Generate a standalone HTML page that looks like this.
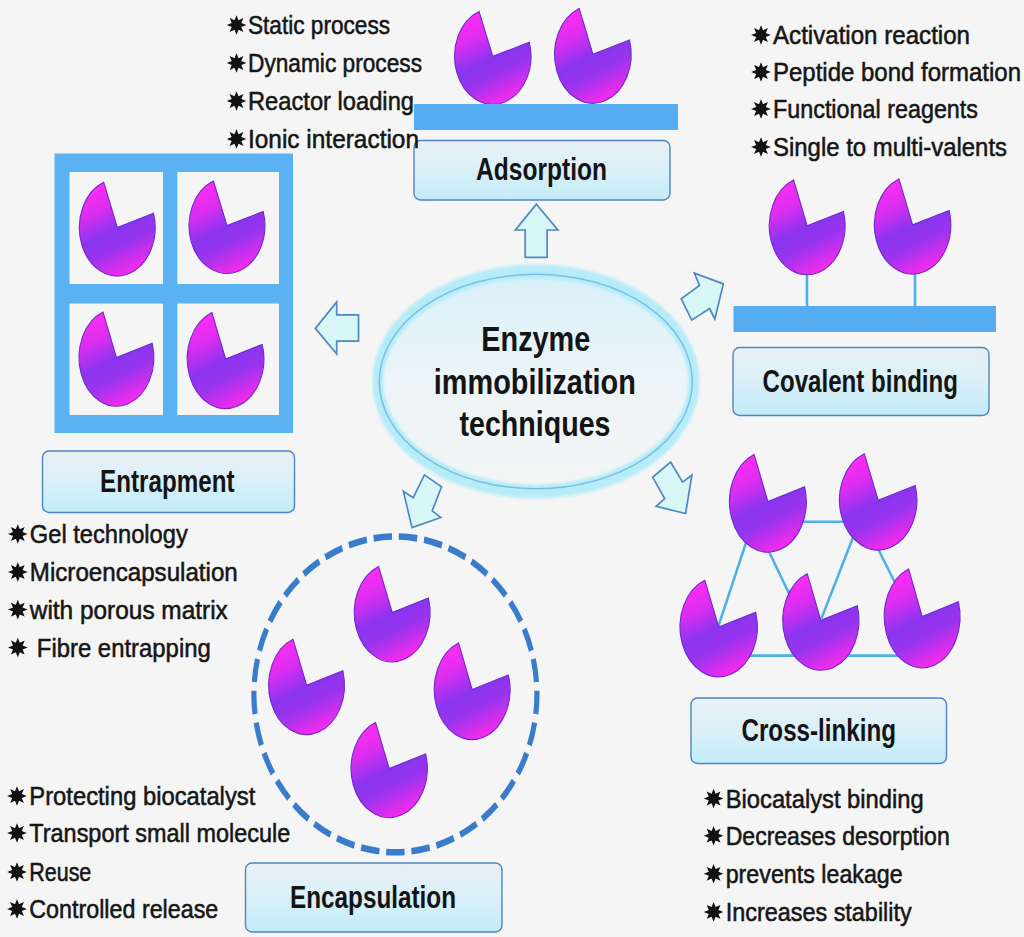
<!DOCTYPE html>
<html><head><meta charset="utf-8"><title>Enzyme immobilization techniques</title>
<style>
html,body{margin:0;padding:0;background:#f5f5f5;}
body{width:1024px;height:937px;overflow:hidden;}
svg{display:block;}
.pm{fill:url(#pg);stroke:#6c2acc;stroke-width:1.1;}
.bar{fill:#56acf0;}
.grid{fill:#5ab2f2;}
.lb{fill:url(#lg);stroke:#4f84c4;stroke-width:1.4;}
.lt{font-family:"Liberation Sans",sans-serif;font-weight:bold;font-size:24.4px;fill:#141414;}
.ct{font-family:"Liberation Sans",sans-serif;font-weight:bold;font-size:28.8px;fill:#141414;}
.bt{font-family:"Liberation Sans",sans-serif;font-size:23.8px;fill:#161616;stroke:#161616;stroke-width:0.5;}
.st{fill:#111;}
.ar{fill:#d8f6f6;stroke:#4e88c2;stroke-width:1.7;stroke-linejoin:miter;}
.stem{stroke:#50b0e6;stroke-width:2.6;}
.xl line{stroke:#50b0e6;stroke-width:2.6;}
</style></head>
<body>
<svg width="1024" height="937" viewBox="0 0 1024 937">
<rect width="1024" height="937" fill="#f5f5f5"/>
<defs>
<linearGradient id="pg" x1="0.3" y1="0" x2="0.7" y2="1">
<stop offset="0" stop-color="#ff2cf4"/><stop offset="0.24" stop-color="#dc2ef0"/><stop offset="0.5" stop-color="#8a34f0"/><stop offset="0.68" stop-color="#9a34ee"/><stop offset="0.96" stop-color="#f82aec"/>
</linearGradient>
<linearGradient id="lg" x1="0" y1="0" x2="0" y2="1">
<stop offset="0" stop-color="#e8f0f5"/><stop offset="0.45" stop-color="#dcf0f8"/><stop offset="1" stop-color="#c2ecf8"/>
</linearGradient>
<linearGradient id="eg" x1="0" y1="0" x2="0" y2="1">
<stop offset="0" stop-color="#d8f0fa"/><stop offset="0.5" stop-color="#ecf4f7"/><stop offset="1" stop-color="#f4f5f5"/>
</linearGradient>
<filter id="soft" x="-10%" y="-10%" width="120%" height="120%"><feGaussianBlur stdDeviation="1.2"/></filter>
</defs>
<path class="pm" d="M492.8,56.3 L529.3,42.3 A38.2,48 0 1 1 479.1,11.5 Z"/>
<path class="pm" d="M592.9,54.2 L629.5,39.9 A38.3,49 0 1 1 579.2,8.5 Z"/>
<rect class="bar" x="414" y="104" width="264" height="26"/>
<rect class="lb" x="414" y="140.5" width="256" height="59.5" rx="6.5" ry="6.5"/><text class="lt" transform="translate(476,179.5) scale(1,1.26)" textLength="131" lengthAdjust="spacingAndGlyphs">Adsorption</text>
<polygon class="ar" points="536.4,204.2 557.9,230.0 547.1,230.0 547.1,257.4 525.2,257.4 525.2,230.0 515.4,230.0"/>
<line class="stem" x1="807" y1="270" x2="807" y2="306"/><line class="stem" x1="915" y1="270" x2="915" y2="306"/>
<path class="pm" d="M807.2,225.8 L843.4,211.5 A37.9,48.9 0 1 1 793.6,180.1 Z"/>
<path class="pm" d="M912.6,224.8 L949.1,210.4 A38.2,49.2 0 1 1 898.9,178.9 Z"/>
<rect class="bar" x="733.5" y="306" width="262.5" height="26"/>
<rect class="lb" x="733" y="347.5" width="256" height="68.0" rx="6.5" ry="6.5"/><text class="lt" transform="translate(762.5,392.4) scale(1,1.26)" textLength="195.5" lengthAdjust="spacingAndGlyphs">Covalent binding</text>
<polygon class="ar" points="694.3,273.1 723.4,283.9 714.8,319.0 709.6,308.6 691.7,320.1 681.2,298.8 699.5,285.4"/>
<path class="grid" fill-rule="evenodd" d="M54.5,153.5 H293 V433 H54.5 Z M69.5,172 H163 V284 H69.5 Z M177.3,172 H279 V284 H177.3 Z M69.5,303.5 H163 V415 H69.5 Z M177.3,303.5 H279 V415 H177.3 Z"/>
<path class="pm" d="M117.3,227.5 L153.5,213.3 A37.9,48.5 0 1 1 103.7,182.2 Z"/>
<path class="pm" d="M227.0,225.6 L263.2,211.6 A37.9,47.8 0 1 1 213.4,181.0 Z"/>
<path class="pm" d="M116.4,357.5 L152.2,343.3 A37.4,48.7 0 1 1 103.0,312.0 Z"/>
<path class="pm" d="M225.6,358.9 L262.2,344.4 A38.3,49.6 0 1 1 211.9,312.6 Z"/>
<rect class="lb" x="42.5" y="451" width="252.0" height="61.5" rx="6.5" ry="6.5"/><text class="lt" transform="translate(100,492.4) scale(1,1.26)" textLength="134.5" lengthAdjust="spacingAndGlyphs">Entrapment</text>
<polygon class="ar" points="315.4,328.4 336.7,302.0 336.7,314.8 358.5,314.8 358.5,341.2 336.7,341.2 336.7,354.0"/>
<ellipse cx="535.8" cy="381.5" rx="156.5" ry="107.2" fill="url(#eg)"/>
<g transform="translate(535.8,381.5) scale(1,1.27)"><ellipse cx="0" cy="0" rx="158" ry="86.6" fill="none" stroke="#b6ecf8" stroke-width="11" filter="url(#soft)"/></g>
<ellipse cx="535.8" cy="381.5" rx="156.5" ry="107.2" fill="none" stroke="#78c0e4" stroke-width="1.5"/>
<text class="ct" transform="translate(481.3,350.7) scale(1,1.22)" textLength="109" lengthAdjust="spacingAndGlyphs">Enzyme</text>
<text class="ct" transform="translate(433.8,393.6) scale(1,1.22)" textLength="202" lengthAdjust="spacingAndGlyphs">immobilization</text>
<text class="ct" transform="translate(459.5,435.8) scale(1,1.22)" textLength="151" lengthAdjust="spacingAndGlyphs">techniques</text>
<polygon class="ar" points="424.4,474.9 441.5,486.9 432.2,510.8 440.8,517.5 412.0,527.6 403.4,491.4 413.2,497.7"/>
<polygon class="ar" points="670.6,462.0 682.6,482.1 691.9,475.0 685.6,513.5 656.1,506.4 664.7,498.6 652.7,477.3"/>
<g transform="translate(395.4,694.4) scale(1,1.27)"><path d="M141.5,0 A141.5,124.33 0 0 1 -141.5,0 A141.5,124.33 0 0 1 141.5,0 Z" pathLength="33" fill="none" stroke="#3a7ccc" stroke-width="5.2" stroke-dasharray="0.73 0.27" stroke-dashoffset="0.115"/></g>
<path class="pm" d="M392.2,612.5 L428.4,598.1 A37.9,49.3 0 1 1 378.6,566.5 Z"/>
<path class="pm" d="M306.6,685.2 L342.8,670.8 A37.9,49.3 0 1 1 293.0,639.2 Z"/>
<path class="pm" d="M472.2,689.6 L508.4,675.0 A37.9,49.9 0 1 1 458.6,643.0 Z"/>
<path class="pm" d="M389.2,768.4 L425.6,754.0 A38.1,49.2 0 1 1 375.5,722.5 Z"/>
<rect class="lb" x="245.5" y="863" width="256.5" height="69" rx="6.5" ry="6.5"/><text class="lt" transform="translate(290,908) scale(1,1.26)" textLength="166" lengthAdjust="spacingAndGlyphs">Encapsulation</text>
<g class="xl">
<line x1="770" y1="521.7" x2="880" y2="521.7"/>
<line x1="759.5" y1="502" x2="718.4" y2="626.2"/>
<line x1="758.7" y1="530" x2="801.7" y2="620"/>
<line x1="859.8" y1="520" x2="821.4" y2="618.6"/>
<line x1="868.6" y1="530" x2="903.7" y2="600"/>
<line x1="740" y1="655.6" x2="900" y2="655.6"/>
</g>
<path class="pm" d="M767.9,501.6 L804.6,486.8 A38.4,50.5 0 1 1 754.1,454.5 Z"/>
<path class="pm" d="M878.2,500.2 L915.2,485.6 A38.7,49.8 0 1 1 864.3,453.7 Z"/>
<path class="pm" d="M718.7,626.9 L755.7,612.3 A38.7,49.9 0 1 1 704.8,580.3 Z"/>
<path class="pm" d="M820.9,620.3 L857.3,605.7 A38.1,49.9 0 1 1 807.2,573.7 Z"/>
<path class="pm" d="M922.2,616.6 L958.4,601.7 A37.9,51.1 0 1 1 908.6,568.9 Z"/>
<rect class="lb" x="691" y="698" width="255.5" height="65.5" rx="6.5" ry="6.5"/><text class="lt" transform="translate(741.5,740.7) scale(1,1.26)" textLength="154.5" lengthAdjust="spacingAndGlyphs">Cross-linking</text>
<polygon class="st" points="236.5,15.2 238.5,20.2 243.4,18.1 241.3,23.0 246.3,25.0 241.3,27.0 243.4,31.9 238.5,29.8 236.5,34.8 234.5,29.8 229.6,31.9 231.7,27.0 226.7,25.0 231.7,23.0 229.6,18.1 234.5,20.2"/>
<text class="bt" transform="translate(248,34) scale(1,1.08)" textLength="142" lengthAdjust="spacingAndGlyphs">Static process</text>
<polygon class="st" points="236.5,53.2 238.5,58.2 243.4,56.1 241.3,61.0 246.3,63.0 241.3,65.0 243.4,69.9 238.5,67.8 236.5,72.8 234.5,67.8 229.6,69.9 231.7,65.0 226.7,63.0 231.7,61.0 229.6,56.1 234.5,58.2"/>
<text class="bt" transform="translate(248,72) scale(1,1.08)" textLength="174" lengthAdjust="spacingAndGlyphs">Dynamic process</text>
<polygon class="st" points="236.5,91.2 238.5,96.2 243.4,94.1 241.3,99.0 246.3,101.0 241.3,103.0 243.4,107.9 238.5,105.8 236.5,110.8 234.5,105.8 229.6,107.9 231.7,103.0 226.7,101.0 231.7,99.0 229.6,94.1 234.5,96.2"/>
<text class="bt" transform="translate(248,110) scale(1,1.08)" textLength="166" lengthAdjust="spacingAndGlyphs">Reactor loading</text>
<polygon class="st" points="236.5,129.2 238.5,134.2 243.4,132.1 241.3,137.0 246.3,139.0 241.3,141.0 243.4,145.9 238.5,143.8 236.5,148.8 234.5,143.8 229.6,145.9 231.7,141.0 226.7,139.0 231.7,137.0 229.6,132.1 234.5,134.2"/>
<text class="bt" transform="translate(248,148) scale(1,1.08)" textLength="171" lengthAdjust="spacingAndGlyphs">Ionic interaction</text>
<polygon class="st" points="761.0,25.2 763.0,30.2 767.9,28.1 765.8,33.0 770.8,35.0 765.8,37.0 767.9,41.9 763.0,39.8 761.0,44.8 759.0,39.8 754.1,41.9 756.2,37.0 751.2,35.0 756.2,33.0 754.1,28.1 759.0,30.2"/>
<text class="bt" transform="translate(773,44) scale(1,1.08)" textLength="197" lengthAdjust="spacingAndGlyphs">Activation reaction</text>
<polygon class="st" points="761.0,62.2 763.0,67.2 767.9,65.1 765.8,70.0 770.8,72.0 765.8,74.0 767.9,78.9 763.0,76.8 761.0,81.8 759.0,76.8 754.1,78.9 756.2,74.0 751.2,72.0 756.2,70.0 754.1,65.1 759.0,67.2"/>
<text class="bt" transform="translate(773,81) scale(1,1.08)" textLength="248" lengthAdjust="spacingAndGlyphs">Peptide bond formation</text>
<polygon class="st" points="761.0,99.2 763.0,104.2 767.9,102.1 765.8,107.0 770.8,109.0 765.8,111.0 767.9,115.9 763.0,113.8 761.0,118.8 759.0,113.8 754.1,115.9 756.2,111.0 751.2,109.0 756.2,107.0 754.1,102.1 759.0,104.2"/>
<text class="bt" transform="translate(773,118) scale(1,1.08)" textLength="205" lengthAdjust="spacingAndGlyphs">Functional reagents</text>
<polygon class="st" points="761.0,137.2 763.0,142.2 767.9,140.1 765.8,145.0 770.8,147.0 765.8,149.0 767.9,153.9 763.0,151.8 761.0,156.8 759.0,151.8 754.1,153.9 756.2,149.0 751.2,147.0 756.2,145.0 754.1,140.1 759.0,142.2"/>
<text class="bt" transform="translate(773,156) scale(1,1.08)" textLength="234" lengthAdjust="spacingAndGlyphs">Single to multi-valents</text>
<polygon class="st" points="17.8,524.2 19.8,529.2 24.7,527.1 22.6,532.0 27.6,534.0 22.6,536.0 24.7,540.9 19.8,538.8 17.8,543.8 15.8,538.8 10.9,540.9 13.0,536.0 8.0,534.0 13.0,532.0 10.9,527.1 15.8,529.2"/>
<text class="bt" transform="translate(29.8,543) scale(1,1.08)" textLength="158" lengthAdjust="spacingAndGlyphs">Gel technology</text>
<polygon class="st" points="17.8,562.2 19.8,567.2 24.7,565.1 22.6,570.0 27.6,572.0 22.6,574.0 24.7,578.9 19.8,576.8 17.8,581.8 15.8,576.8 10.9,578.9 13.0,574.0 8.0,572.0 13.0,570.0 10.9,565.1 15.8,567.2"/>
<text class="bt" transform="translate(29.8,581) scale(1,1.08)" textLength="208" lengthAdjust="spacingAndGlyphs">Microencapsulation</text>
<polygon class="st" points="17.8,599.8 19.8,604.8 24.7,602.7 22.6,607.6 27.6,609.6 22.6,611.6 24.7,616.5 19.8,614.4 17.8,619.4 15.8,614.4 10.9,616.5 13.0,611.6 8.0,609.6 13.0,607.6 10.9,602.7 15.8,604.8"/>
<text class="bt" transform="translate(29.8,618.6) scale(1,1.08)" textLength="198" lengthAdjust="spacingAndGlyphs">with porous matrix</text>
<polygon class="st" points="17.8,637.7 19.8,642.7 24.7,640.6 22.6,645.5 27.6,647.5 22.6,649.5 24.7,654.4 19.8,652.3 17.8,657.3 15.8,652.3 10.9,654.4 13.0,649.5 8.0,647.5 13.0,645.5 10.9,640.6 15.8,642.7"/>
<text class="bt" transform="translate(36.8,656.5) scale(1,1.08)" textLength="174" lengthAdjust="spacingAndGlyphs">Fibre entrapping</text>
<polygon class="st" points="17.0,786.2 19.0,791.2 23.9,789.1 21.8,794.0 26.8,796.0 21.8,798.0 23.9,802.9 19.0,800.8 17.0,805.8 15.0,800.8 10.1,802.9 12.2,798.0 7.2,796.0 12.2,794.0 10.1,789.1 15.0,791.2"/>
<text class="bt" transform="translate(29.3,805) scale(1,1.08)" textLength="226" lengthAdjust="spacingAndGlyphs">Protecting biocatalyst</text>
<polygon class="st" points="17.0,823.2 19.0,828.2 23.9,826.1 21.8,831.0 26.8,833.0 21.8,835.0 23.9,839.9 19.0,837.8 17.0,842.8 15.0,837.8 10.1,839.9 12.2,835.0 7.2,833.0 12.2,831.0 10.1,826.1 15.0,828.2"/>
<text class="bt" transform="translate(29.3,842) scale(1,1.08)" textLength="261" lengthAdjust="spacingAndGlyphs">Transport small molecule</text>
<polygon class="st" points="17.0,862.2 19.0,867.2 23.9,865.1 21.8,870.0 26.8,872.0 21.8,874.0 23.9,878.9 19.0,876.8 17.0,881.8 15.0,876.8 10.1,878.9 12.2,874.0 7.2,872.0 12.2,870.0 10.1,865.1 15.0,867.2"/>
<text class="bt" transform="translate(29.3,881) scale(1,1.08)" textLength="62" lengthAdjust="spacingAndGlyphs">Reuse</text>
<polygon class="st" points="17.0,899.2 19.0,904.2 23.9,902.1 21.8,907.0 26.8,909.0 21.8,911.0 23.9,915.9 19.0,913.8 17.0,918.8 15.0,913.8 10.1,915.9 12.2,911.0 7.2,909.0 12.2,907.0 10.1,902.1 15.0,904.2"/>
<text class="bt" transform="translate(29.3,918) scale(1,1.08)" textLength="189" lengthAdjust="spacingAndGlyphs">Controlled release</text>
<polygon class="st" points="713.6,788.7 715.6,793.7 720.5,791.6 718.4,796.5 723.4,798.5 718.4,800.5 720.5,805.4 715.6,803.3 713.6,808.3 711.6,803.3 706.7,805.4 708.8,800.5 703.8,798.5 708.8,796.5 706.7,791.6 711.6,793.7"/>
<text class="bt" transform="translate(725.7,807.5) scale(1,1.08)" textLength="198" lengthAdjust="spacingAndGlyphs">Biocatalyst binding</text>
<polygon class="st" points="713.6,825.9 715.6,830.9 720.5,828.8 718.4,833.7 723.4,835.7 718.4,837.7 720.5,842.6 715.6,840.5 713.6,845.5 711.6,840.5 706.7,842.6 708.8,837.7 703.8,835.7 708.8,833.7 706.7,828.8 711.6,830.9"/>
<text class="bt" transform="translate(725.7,844.7) scale(1,1.08)" textLength="224" lengthAdjust="spacingAndGlyphs">Decreases desorption</text>
<polygon class="st" points="713.6,864.0 715.6,869.0 720.5,866.9 718.4,871.8 723.4,873.8 718.4,875.8 720.5,880.7 715.6,878.6 713.6,883.6 711.6,878.6 706.7,880.7 708.8,875.8 703.8,873.8 708.8,871.8 706.7,866.9 711.6,869.0"/>
<text class="bt" transform="translate(725.7,882.8) scale(1,1.08)" textLength="177" lengthAdjust="spacingAndGlyphs">prevents leakage</text>
<polygon class="st" points="713.6,902.1 715.6,907.1 720.5,905.0 718.4,909.9 723.4,911.9 718.4,913.9 720.5,918.8 715.6,916.7 713.6,921.7 711.6,916.7 706.7,918.8 708.8,913.9 703.8,911.9 708.8,909.9 706.7,905.0 711.6,907.1"/>
<text class="bt" transform="translate(725.7,920.9) scale(1,1.08)" textLength="186" lengthAdjust="spacingAndGlyphs">Increases stability</text>
</svg>
</body></html>
